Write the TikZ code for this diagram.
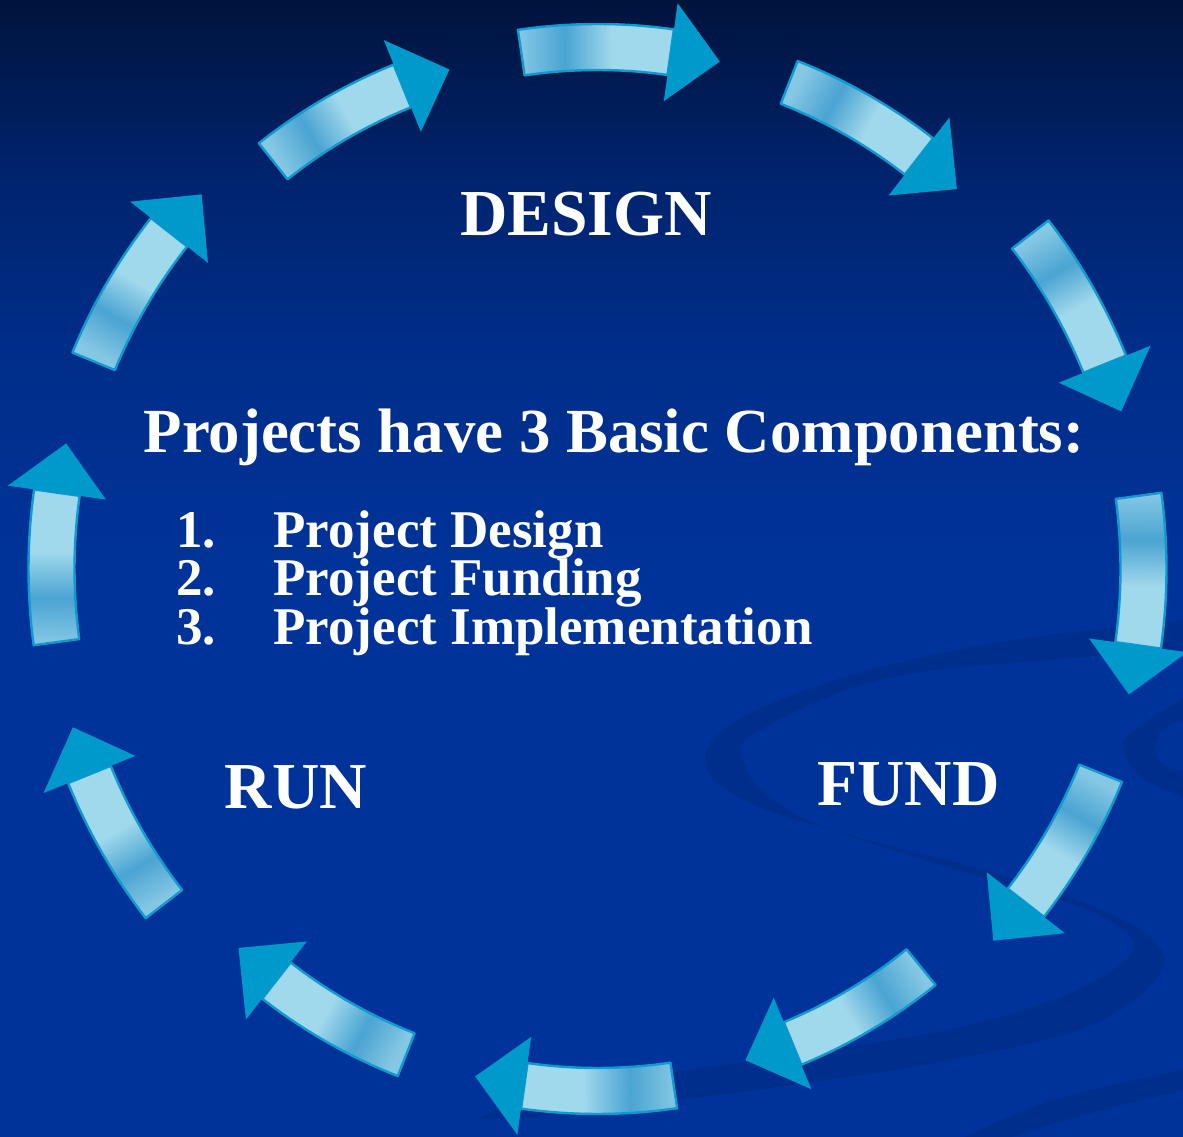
\documentclass[tikz,border=0pt]{standalone}
\usepackage{fontspec}
\setmainfont{Liberation Serif}
\usetikzlibrary{calc}

\definecolor{bgblue}{HTML}{003399}
\definecolor{bgmid}{HTML}{002D88}
\definecolor{bgdeep}{HTML}{00236C}
\definecolor{bgtop}{HTML}{00133C}
\definecolor{swirlblue}{HTML}{002E8C}
\definecolor{shaftlight}{HTML}{A0D8EC}
\definecolor{shaftsoft}{HTML}{86C8E4}
\definecolor{shaftdark}{HTML}{4AA4D2}
\definecolor{shaftedge}{HTML}{0F9AD0}
\definecolor{headblue}{HTML}{0099CC}

% Backdrop, dark at the top
\pgfdeclareverticalshading{backdrop}{100bp}{color(0bp)=(bgblue); color(50bp)=(bgblue);
  color(60bp)=(bgmid); color(67.5bp)=(bgdeep); color(75bp)=(bgtop); color(100bp)=(bgtop)}
% Arrow shafts, streak near the tail
\pgfdeclarehorizontalshading{shaftshade}{100bp}{color(0bp)=(shaftsoft); color(25bp)=(shaftsoft);
  color(40bp)=(shaftdark); color(55bp)=(shaftlight); color(75bp)=(shaftlight); color(100bp)=(shaftlight)}

\begin{document}
\begin{tikzpicture}[x=0.5pt,y=0.5pt,
  shaft/.style={draw=shaftedge, line width=1.2pt, line join=round, shading=shaftshade},
  headfill/.style={fill=headblue},
  swirl/.style={fill=swirlblue},
  heading/.style={text=white, font=\bfseries\fontsize{32.8}{38}\selectfont, inner sep=0pt, anchor=base},
  listitem/.style={text=white, font=\bfseries\fontsize{26.5}{31}\selectfont, inner sep=0pt, anchor=base west}]

% Background
\useasboundingbox (0,0) rectangle (1183,1136);
\shade[shading=backdrop] (0,0) rectangle (1183,1136);
\clip (0,0) rectangle (1183,1136);

% Swirls
\fill[swirl] plot[smooth, tension=0.6] coordinates {(1260,520) (1183,516) (990,492) (820,451)
  (710,393) (752,332) (990,264) (1092,230) (1153,196) (1160,162) (1092,111) (956,77) (786,50)
  (650,33) (540,20) (480,18) (540,38) (650,60) (786,80) (956,108) (1075,145) (1133,186)
  (1110,215) (1058,237) (990,256) (803,318) (744,373) (762,407) (888,458) (1075,478)
  (1183,486) (1260,490)} -- cycle;
\fill[swirl] plot[smooth cycle, tension=0.6] coordinates {(1200,440) (1183,437) (1140,410)
  (1123,390) (1140,360) (1183,339) (1200,335) (1200,360) (1165,370) (1155,390) (1170,412) (1200,420)};
\fill[swirl] plot[smooth, tension=0.6] coordinates {(1200,75) (1183,67) (1050,35) (956,-5)}
  -- (1000,-5) -- plot[smooth, tension=0.6] coordinates {(1000,-5) (1080,20) (1200,50)} -- cycle;

% Arrows: tail angle / radius, shaft 150 and head 50 long
\coordinate (ctr) at (597.5,567);
\foreach \tail/\rad in {98.4/522, 68.5/523, 37.7/547, 7.7/546, -22.1/543, -50.9/513,
    -81.6/522, -111.5/522, -142.3/548, -172.3/546, 157.6/545, 128.5/521}{
  \pgfmathsetmacro{\base}{\tail-150/\rad*57.296}
  \pgfmathsetmacro{\tip}{\base-50/\rad*57.296}
  \pgfmathsetmacro{\dir}{\tail-98}
  \pgfmathsetmacro{\ro}{\rad+23}
  \pgfmathsetmacro{\ri}{\rad-23}
  \pgfmathsetmacro{\ho}{\rad+49.5}
  \pgfmathsetmacro{\hi}{\rad-49.5}
  \shade[shaft, shading angle=\dir]
    ($(ctr)+(\tail:\ro)$) arc[start angle=\tail, end angle=\base, radius=\ro]
    -- ($(ctr)+(\base:\ri)$) arc[start angle=\base, end angle=\tail, radius=\ri]
    -- cycle;
  \fill[headfill] ($(ctr)+(\base:\ho)$) -- ($(ctr)+(\tip:\rad)$)
    -- ($(ctr)+(\base:\hi)$) -- cycle;
}

% Labels
\node[heading] (design) at (586,900) {DESIGN};
\node[heading] (run) at (296,328) {RUN};
\node[heading] (fund) at (908.5,330) {FUND};
\node[heading, font=\bfseries\fontsize{31.4}{38}\selectfont] (title) at (614,683)
  {Projects have 3 Basic Components:};

% List
\foreach \n/\txt/\y in {1/Design/588.3, 2/Funding/540.3, 3/Implementation/491.7}{
  \node[listitem] (num\n) at (176,\y) {\n.};
  \node[listitem] (item\n) at (273,\y) {Project \txt};
}

\end{tikzpicture}
\end{document}
